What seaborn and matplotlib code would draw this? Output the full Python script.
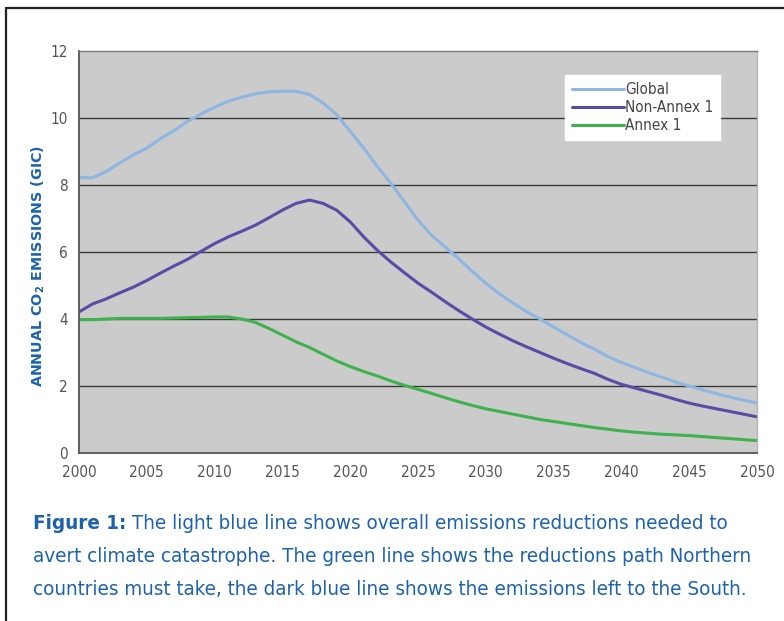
import matplotlib
matplotlib.use("Agg")
import matplotlib.pyplot as plt
from matplotlib import font_manager
from matplotlib.lines import Line2D
import seaborn as sns
import pandas as pd

years = list(range(2000, 2051))
global_vals = [8.22, 8.22, 8.4, 8.66, 8.9, 9.1, 9.38, 9.62, 9.9, 10.12,
               10.32, 10.5, 10.62, 10.72, 10.78, 10.8, 10.8, 10.7, 10.45, 10.1,
               9.6, 9.1, 8.55, 8.05, 7.5, 6.95, 6.5, 6.15, 5.8, 5.42,
               5.07, 4.75, 4.48, 4.22, 4.0, 3.76, 3.53, 3.3, 3.1, 2.88,
               2.7, 2.55, 2.4, 2.26, 2.12, 2.0, 1.88, 1.77, 1.67, 1.58, 1.49]
non_annex_vals = [4.21, 4.45, 4.6, 4.78, 4.95, 5.15, 5.37, 5.58, 5.78, 6.02,
                  6.25, 6.45, 6.62, 6.8, 7.02, 7.25, 7.45, 7.55, 7.45, 7.25,
                  6.9, 6.45, 6.05, 5.7, 5.38, 5.07, 4.8, 4.52, 4.25, 4.0,
                  3.76, 3.55, 3.35, 3.17, 3.0, 2.83, 2.67, 2.52, 2.38, 2.2,
                  2.05, 1.94, 1.83, 1.72, 1.6, 1.49, 1.4, 1.32, 1.24, 1.16, 1.08]
annex_vals = [3.98, 3.98, 4.0, 4.02, 4.02, 4.02, 4.02, 4.03, 4.04, 4.05,
              4.06, 4.06, 4.0, 3.9, 3.72, 3.52, 3.32, 3.15, 2.95, 2.75,
              2.58, 2.43, 2.3, 2.15, 2.02, 1.9, 1.78, 1.65, 1.53, 1.42,
              1.32, 1.24, 1.16, 1.08, 1.0, 0.94, 0.88, 0.82, 0.76, 0.71,
              0.66, 0.62, 0.59, 0.56, 0.54, 0.52, 0.49, 0.46, 0.43, 0.4, 0.37]
series_names = ["Global", "Non-Annex 1", "Annex 1"]
series_colors = ["#8db6e2", "#5b4ba6", "#3fb24d"]
x_ticks = list(range(2000, 2051, 5))
y_ticks = list(range(0, 13, 2))
y_label = r"ANNUAL CO$_\mathbf{2}$ EMISSIONS (GIC)"
caption_bold = "Figure 1:"
caption_lines = [" The light blue line shows overall emissions reductions needed to",
                 "avert climate catastrophe. The green line shows the reductions path Northern",
                 "countries must take, the dark blue line shows the emissions left to the South."]

df = pd.DataFrame({
    "year": years * 3,
    "value": global_vals + non_annex_vals + annex_vals,
    "series": [series_names[0]] * len(years) + [series_names[1]] * len(years) + [series_names[2]] * len(years),
})

sns.set_style("white")
avail = {f.name for f in font_manager.fontManager.ttflist}
narrow = "Liberation Sans Narrow" if "Liberation Sans Narrow" in avail else None
plt.rcParams["font.family"] = ["DejaVu Sans"]

if narrow:
    tick_fp = dict(family=narrow)
else:
    tick_fp = dict(family="DejaVu Sans", stretch="condensed")

fig = plt.figure(figsize=(7.84, 6.21), dpi=100)
ax = fig.add_axes([79 / 784, 1 - 453 / 621, (757 - 79) / 784, (453 - 51) / 621])
ax.set_facecolor("#cbcbcb")

sns.lineplot(data=df, x="year", y="value", hue="series", hue_order=series_names,
             palette=series_colors, linewidth=2.2, ax=ax)

ax.set_xlim(2000, 2050)
ax.set_ylim(0, 12)
ax.set_xticks(x_ticks)
ax.set_yticks(y_ticks)
ax.set_xlabel("")
ax.set_ylabel("")
for yv in y_ticks[1:-1]:
    ax.axhline(yv, color="#3a3a3a", lw=1.0, zorder=1)

ax.tick_params(axis="x", direction="inout", length=7, width=1, color="#555555",
               labelcolor="#555555", pad=5)
ax.tick_params(axis="y", direction="out", length=5, width=1, color="#555555",
               labelcolor="#555555", pad=3)
for lab in ax.get_xticklabels() + ax.get_yticklabels():
    lab.set_fontproperties(font_manager.FontProperties(size=11, **tick_fp))
for s in ["left", "bottom"]:
    ax.spines[s].set_color("#555555")
    ax.spines[s].set_linewidth(1.3)
ax.spines["top"].set_color("#7a7a7a")
ax.spines["top"].set_linewidth(1.0)
ax.spines["right"].set_color("#b5b5b5")
ax.spines["right"].set_linewidth(1.0)

leg = ax.legend(loc="upper left", bbox_to_anchor=((565 - 79) / 678, 1 - (75 - 51) / 402),
                frameon=True, fancybox=False, framealpha=1, edgecolor="white",
                facecolor="white", prop=font_manager.FontProperties(size=11, **tick_fp),
                handlelength=3.4, handletextpad=0.1,
                labelspacing=0.2, borderpad=0.45, borderaxespad=0)
for t in leg.get_texts():
    t.set_color("#444444")

fig.text(38 / 784, 1 - 266 / 621, y_label, rotation=90, ha="center", va="center",
         color="#1d62ad", fontsize=10.3, fontweight="bold", family="DejaVu Sans")

# frame around figure
fig.add_artist(Line2D([6 / 784, 1], [1 - 8 / 621, 1 - 8 / 621], color="#222222", lw=1.6,
                      transform=fig.transFigure))
fig.add_artist(Line2D([6 / 784, 6 / 784], [0, 1 - 8 / 621], color="#222222", lw=1.6,
                      transform=fig.transFigure))

cap_color = "#1d62ad"
cap_x = 33 / 784
cap_ys = [529, 562, 595]
cap_fp = dict(family=narrow) if narrow else dict(family="DejaVu Sans", stretch="condensed")
renderer = fig.canvas.get_renderer()
# fit caption size so the second line spans the reference width
probe = fig.text(0, 0, caption_lines[1], fontsize=14, **cap_fp)
w = probe.get_window_extent(renderer=renderer).width
probe.remove()
cap_size = 14 * (724 / w)

tb = fig.text(cap_x, 1 - cap_ys[0] / 621, caption_bold, color=cap_color, fontsize=cap_size,
              fontweight="bold", ha="left", va="baseline", **cap_fp)
bb = tb.get_window_extent(renderer=renderer)
x_after = bb.x1 / fig.bbox.width
fig.text(x_after, 1 - cap_ys[0] / 621, caption_lines[0], color=cap_color, fontsize=cap_size,
         ha="left", va="baseline", **cap_fp)
for line, yy in zip(caption_lines[1:], cap_ys[1:]):
    fig.text(cap_x, 1 - yy / 621, line, color=cap_color, fontsize=cap_size, ha="left",
             va="baseline", **cap_fp)

fig.savefig("out.png", dpi=100, facecolor="white")
